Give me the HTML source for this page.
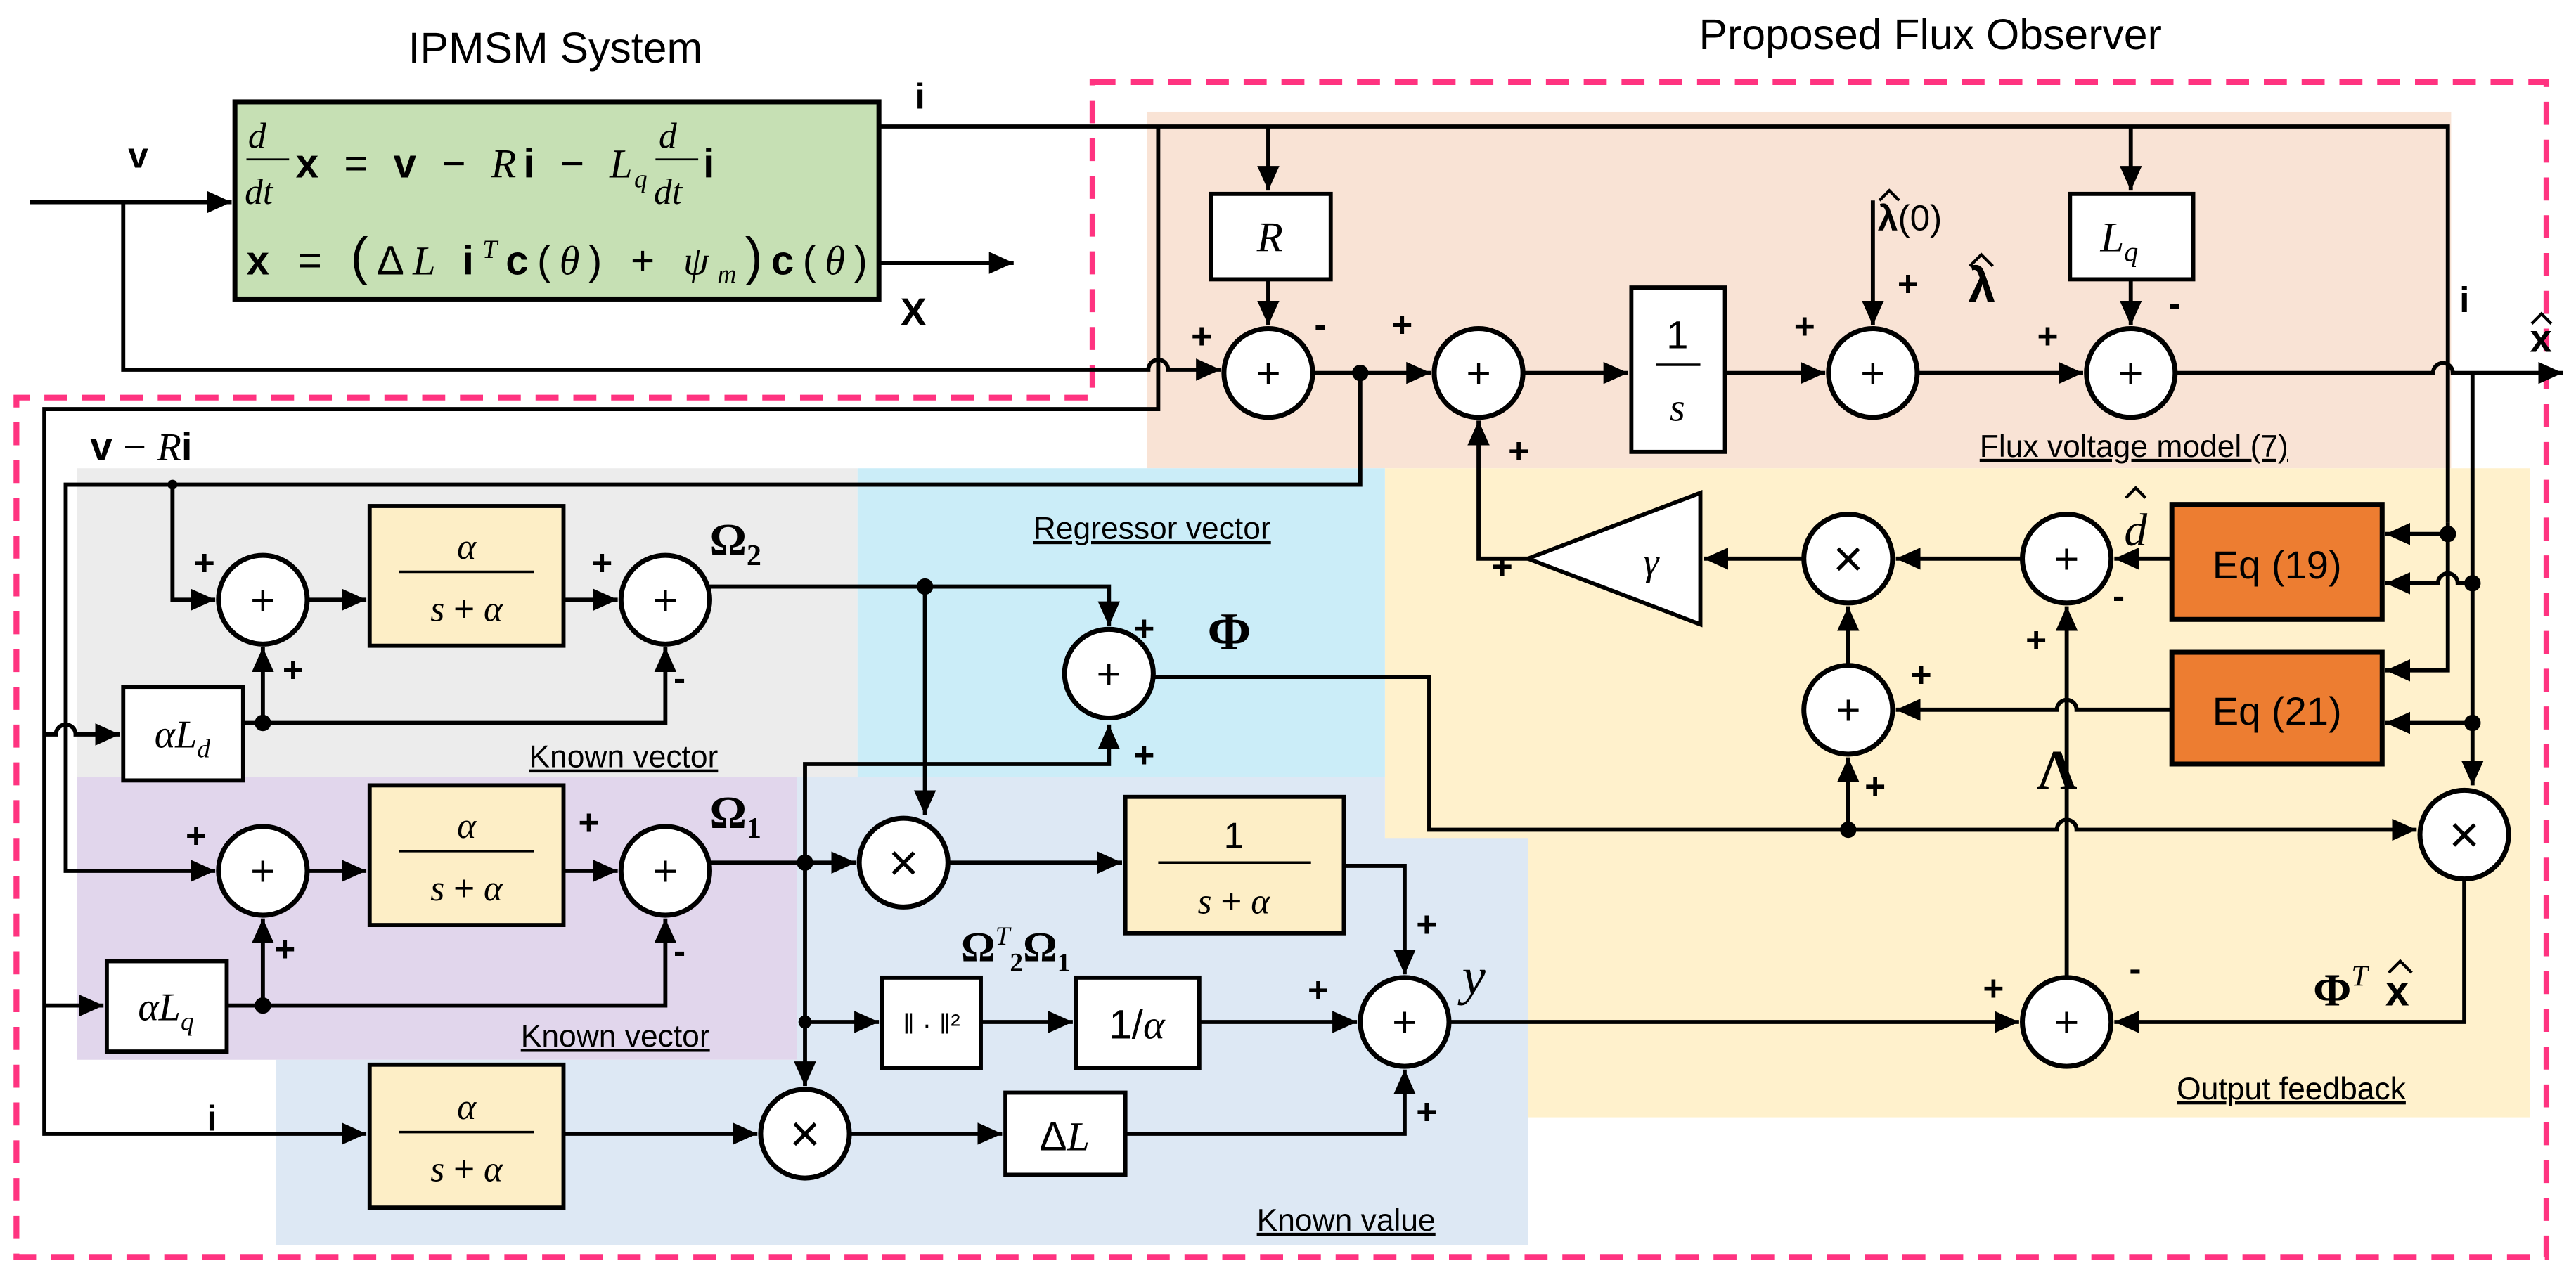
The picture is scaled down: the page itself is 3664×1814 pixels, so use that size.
<!DOCTYPE html>
<html><head><meta charset="utf-8"><style>
html,body{margin:0;padding:0;background:#fff;}
svg{display:block;}
.t{font-family:"Liberation Sans",sans-serif;}
.m{font-family:"Liberation Serif",serif;font-style:italic;}
.b{font-family:"Liberation Sans",sans-serif;font-weight:bold;}
</style></head><body>
<svg width="3664" height="1814" viewBox="0 0 1568 776" preserveAspectRatio="none" xmlns="http://www.w3.org/2000/svg">
<defs>
<marker id="A" viewBox="0 0 10 10" refX="10" refY="5" markerWidth="15" markerHeight="15" markerUnits="userSpaceOnUse" orient="auto"><path d="M0,0.5L10,5L0,9.5z" fill="#000"/></marker>
</defs>
<!-- regions -->
<rect x="698" y="68" width="794" height="217" fill="#f9e3d5"/>
<rect x="843" y="285" width="697" height="395" fill="#fff1cc"/>
<rect x="47" y="285" width="475" height="188" fill="#ececec"/>
<rect x="522" y="285" width="321" height="188" fill="#cbedf8"/>
<rect x="47" y="473" width="438" height="172" fill="#e1d6ec"/>
<path d="M485,473H843V510H930V758H168V645H485Z" fill="#dde8f4"/>
<!-- dashed outline -->
<path d="M665,50H1550V765H10V242H665Z" fill="none" stroke="#ff3380" stroke-width="3.5" stroke-dasharray="14,9"/>
<!-- titles -->
<text x="338" y="38" class="t" font-size="26" text-anchor="middle">IPMSM System</text>
<text x="1175" y="30" class="t" font-size="26" text-anchor="middle">Proposed Flux Observer</text>
<!-- green box -->
<rect x="143" y="62" width="392" height="120" fill="#c6e0b4" stroke="#000" stroke-width="3"/>
<g font-size="25">
<text x="151" y="90" class="m" font-size="22">d</text><line x1="150" y1="97" x2="176" y2="97" stroke="#000" stroke-width="1.2"/><text x="149" y="124" class="m" font-size="22">dt</text>
<text x="180" y="108" textLength="205" lengthAdjust="spacing"><tspan class="b">x</tspan><tspan class="t"> = </tspan><tspan class="b">v</tspan><tspan class="t"> − </tspan><tspan class="m">R</tspan><tspan class="b">i</tspan><tspan class="t"> − </tspan><tspan class="m">L</tspan></text>
<text x="386" y="114" class="m" font-size="16">q</text>
<text x="401" y="90" class="m" font-size="22">d</text><line x1="399" y1="97" x2="425" y2="97" stroke="#000" stroke-width="1.2"/><text x="398" y="124" class="m" font-size="22">dt</text>
<text x="428" y="108" class="b">i</text>
<text x="150" y="167" textLength="378" lengthAdjust="spacing"><tspan class="b">x</tspan><tspan class="t"> = </tspan><tspan class="t" font-size="32">(</tspan><tspan class="t">Δ</tspan><tspan class="m">L </tspan><tspan class="b">i</tspan><tspan class="m" font-size="16" dy="-10">T</tspan><tspan class="b" dy="10">c</tspan><tspan class="t">(</tspan><tspan class="m">θ</tspan><tspan class="t">) + </tspan><tspan class="m">ψ</tspan><tspan class="m" font-size="16" dy="5">m</tspan><tspan class="t" font-size="32" dy="-5">)</tspan><tspan class="b">c</tspan><tspan class="t">(</tspan><tspan class="m">θ</tspan><tspan class="t">)</tspan></text>
</g>
<g stroke="#000" stroke-width="2.5" fill="none">
<line x1="18" y1="123" x2="141" y2="123" marker-end="url(#A)"/>
<path d="M75,123V225H699A6,6 0 0 1 711,225H743" marker-end="url(#A)"/>
<line x1="535" y1="160" x2="617" y2="160" marker-end="url(#A)"/>
<path d="M535,77H1490V318"/>
<path d="M705,77V249H27V690H223" marker-end="url(#A)"/>
<line x1="772" y1="77" x2="772" y2="116" marker-end="url(#A)"/>
<line x1="1297" y1="77" x2="1297" y2="116" marker-end="url(#A)"/>
<line x1="772" y1="170" x2="772" y2="198" marker-end="url(#A)"/>
<line x1="1297" y1="170" x2="1297" y2="198" marker-end="url(#A)"/>
<line x1="800" y1="227" x2="871" y2="227" marker-end="url(#A)"/>
<line x1="927" y1="227" x2="991" y2="227" marker-end="url(#A)"/>
<line x1="1050" y1="227" x2="1111" y2="227" marker-end="url(#A)"/>
<line x1="1140" y1="122" x2="1140" y2="198" marker-end="url(#A)"/>
<line x1="1168" y1="227" x2="1268" y2="227" marker-end="url(#A)"/>
<path d="M1325,227H1481A6,6 0 0 1 1493,227H1560" marker-end="url(#A)"/>
<path d="M1490,318V325H1452" marker-end="url(#A)"/>
<path d="M1490,325V408H1452" marker-end="url(#A)"/>
<path d="M1505,227V478" marker-end="url(#A)"/>
<path d="M1505,355H1496A6,6 0 0 0 1484,355H1452" marker-end="url(#A)"/>
<line x1="1505" y1="440" x2="1452" y2="440" marker-end="url(#A)"/>
<line x1="1322" y1="340" x2="1287" y2="340" marker-end="url(#A)"/>
<line x1="1231" y1="340" x2="1154" y2="340" marker-end="url(#A)"/>
<line x1="1098" y1="340" x2="1037" y2="340" marker-end="url(#A)"/>
<path d="M930,340H900V256" marker-end="url(#A)"/>
<path d="M1322,432H1264A6,6 0 0 0 1252,432H1154" marker-end="url(#A)"/>
<line x1="1125" y1="405" x2="1125" y2="369" marker-end="url(#A)"/>
<path d="M702,412H870V505H1252A6,6 0 0 1 1264,505H1471" marker-end="url(#A)"/>
<line x1="1125" y1="505" x2="1125" y2="461" marker-end="url(#A)"/>
<path d="M1500,536V622H1287" marker-end="url(#A)"/>
<line x1="882" y1="622" x2="1229" y2="622" marker-end="url(#A)"/>
<line x1="1258" y1="595" x2="1258" y2="369" marker-end="url(#A)"/>
<path d="M828,227V295H40V530H131" marker-end="url(#A)"/>
<path d="M105,295V365H131" marker-end="url(#A)"/>
<path d="M27,447H34A6,6 0 0 1 46,447H73" marker-end="url(#A)"/>
<line x1="27" y1="612" x2="63" y2="612" marker-end="url(#A)"/>
<line x1="187" y1="365" x2="223" y2="365" marker-end="url(#A)"/>
<line x1="343" y1="365" x2="376" y2="365" marker-end="url(#A)"/>
<path d="M148,440H405V394" marker-end="url(#A)"/>
<line x1="160" y1="440" x2="160" y2="394" marker-end="url(#A)"/>
<path d="M432,357H675V381" marker-end="url(#A)"/>
<line x1="563" y1="357" x2="563" y2="496" marker-end="url(#A)"/>
<line x1="187" y1="530" x2="223" y2="530" marker-end="url(#A)"/>
<line x1="343" y1="530" x2="376" y2="530" marker-end="url(#A)"/>
<path d="M138,612H405V559" marker-end="url(#A)"/>
<line x1="160" y1="612" x2="160" y2="559" marker-end="url(#A)"/>
<line x1="432" y1="525" x2="521" y2="525" marker-end="url(#A)"/>
<path d="M490,525V465H675V441" marker-end="url(#A)"/>
<path d="M490,525V622H535" marker-end="url(#A)"/>
<line x1="490" y1="622" x2="490" y2="661" marker-end="url(#A)"/>
<line x1="577" y1="525" x2="683" y2="525" marker-end="url(#A)"/>
<path d="M818,527H855V593" marker-end="url(#A)"/>
<line x1="597" y1="622" x2="653" y2="622" marker-end="url(#A)"/>
<line x1="730" y1="622" x2="826" y2="622" marker-end="url(#A)"/>
<line x1="343" y1="690" x2="461" y2="690" marker-end="url(#A)"/>
<line x1="517" y1="690" x2="610" y2="690" marker-end="url(#A)"/>
<path d="M685,690H855V651" marker-end="url(#A)"/>
</g>
<g fill="#000">
<circle cx="828" cy="227" r="5"/><circle cx="160" cy="440" r="5"/><circle cx="160" cy="612" r="5"/>
<circle cx="563" cy="357" r="5"/><circle cx="490" cy="525" r="5"/><circle cx="490" cy="622" r="4"/>
<circle cx="1125" cy="505" r="5"/><circle cx="1490" cy="325" r="5"/><circle cx="1505" cy="355" r="5"/><circle cx="1505" cy="440" r="5"/>
<circle cx="105" cy="295" r="3"/>
</g>
<g stroke="#000" stroke-width="3" fill="#fff">
<circle cx="772" cy="227" r="27"/><circle cx="900" cy="227" r="27"/><circle cx="1140" cy="227" r="27"/><circle cx="1297" cy="227" r="27"/>
<circle cx="160" cy="365" r="27"/><circle cx="405" cy="365" r="27"/><circle cx="160" cy="530" r="27"/><circle cx="405" cy="530" r="27"/>
<circle cx="675" cy="410" r="27"/><circle cx="855" cy="622" r="27"/><circle cx="1258" cy="340" r="27"/><circle cx="1125" cy="432" r="27"/><circle cx="1258" cy="622" r="27"/>
<circle cx="550" cy="525" r="27"/><circle cx="490" cy="690" r="27"/><circle cx="1125" cy="340" r="27"/><circle cx="1500" cy="508" r="27"/>
</g>
<g class="t" font-size="26" text-anchor="middle">
<text x="772" y="236">+</text><text x="900" y="236">+</text><text x="1140" y="236">+</text><text x="1297" y="236">+</text>
<text x="160" y="374">+</text><text x="405" y="374">+</text><text x="160" y="539">+</text><text x="405" y="539">+</text>
<text x="675" y="419">+</text><text x="855" y="631">+</text><text x="1258" y="349">+</text><text x="1125" y="441">+</text><text x="1258" y="631">+</text>
</g>
<g class="t" font-size="32" text-anchor="middle">
<text x="550" y="536">×</text><text x="490" y="701">×</text><text x="1125" y="351">×</text><text x="1500" y="519">×</text>
</g>
<g stroke="#000" stroke-width="2.5" fill="#fff">
<rect x="737" y="118" width="73" height="52"/><rect x="1260" y="118" width="75" height="52"/>
<rect x="993" y="175" width="57" height="100"/>
<rect x="75" y="418" width="73" height="57"/><rect x="65" y="585" width="73" height="55"/>
<rect x="537" y="595" width="60" height="55"/><rect x="655" y="595" width="75" height="55"/><rect x="612" y="665" width="73" height="50"/>
</g>
<g stroke="#000" stroke-width="2.5" fill="#fdeec6">
<rect x="225" y="308" width="118" height="85"/><rect x="225" y="478" width="118" height="85"/><rect x="225" y="648" width="118" height="87"/>
<rect x="685" y="485" width="133" height="83"/>
</g>
<g stroke="#000" stroke-width="3" fill="#ed7d31">
<rect x="1322" y="307" width="128" height="70"/><rect x="1322" y="397" width="128" height="68"/>
</g>
<polygon points="930,340 1035,300 1035,380" fill="#fff" stroke="#000" stroke-width="2.5"/>
<text x="1005" y="350" class="m" font-size="24" text-anchor="middle">γ</text>
<text x="1386" y="352" class="t" font-size="24" text-anchor="middle">Eq (19)</text>
<text x="1386" y="441" class="t" font-size="24" text-anchor="middle">Eq (21)</text>
<text x="773" y="153" class="m" font-size="26" text-anchor="middle">R</text>
<text x="1290" y="153" class="m" font-size="26" text-anchor="middle">L<tspan font-size="17" dy="6">q</tspan></text>
<text x="1021" y="212" class="t" font-size="24" text-anchor="middle">1</text><line x1="1008" y1="222" x2="1035" y2="222" stroke="#000" stroke-width="1.5"/><text x="1021" y="256" class="m" font-size="24" text-anchor="middle">s</text>
<g font-size="22" text-anchor="middle">
<text x="284" y="340" class="m">α</text><line x1="243" y1="348" x2="325" y2="348" stroke="#000" stroke-width="1.5"/><text x="284" y="378" class="m">s <tspan class="t" font-style="normal">+</tspan> α</text>
<text x="284" y="510" class="m">α</text><line x1="243" y1="518" x2="325" y2="518" stroke="#000" stroke-width="1.5"/><text x="284" y="548" class="m">s <tspan class="t" font-style="normal">+</tspan> α</text>
<text x="284" y="681" class="m">α</text><line x1="243" y1="689" x2="325" y2="689" stroke="#000" stroke-width="1.5"/><text x="284" y="719" class="m">s <tspan class="t" font-style="normal">+</tspan> α</text>
<text x="751" y="516" class="t">1</text><line x1="705" y1="525" x2="798" y2="525" stroke="#000" stroke-width="1.5"/><text x="751" y="556" class="m">s <tspan class="t" font-style="normal">+</tspan> α</text>
</g>
<text x="111" y="455" class="m" font-size="24" text-anchor="middle">αL<tspan font-size="16" dy="6">d</tspan></text>
<text x="101" y="621" class="m" font-size="24" text-anchor="middle">αL<tspan font-size="16" dy="6">q</tspan></text>
<text x="567" y="629" class="t" font-size="17" text-anchor="middle">‖ · ‖²</text>
<text x="692" y="632" class="t" font-size="25" text-anchor="middle">1/<tspan class="m">α</tspan></text>
<text x="648" y="700" class="t" font-size="25" text-anchor="middle">Δ<tspan class="m">L</tspan></text>
<!-- signal labels -->
<text x="557" y="66" class="b" font-size="22">i</text>
<text x="78" y="102" class="b" font-size="22">v</text>
<text x="548" y="198" class="b" font-size="24">X</text>
<text x="55" y="280" font-size="24"><tspan class="b">v</tspan><tspan class="t"> − </tspan><tspan class="m">R</tspan><tspan class="b">i</tspan></text>
<text x="126" y="688" class="b" font-size="22">i</text>
<text x="1497" y="190" class="b" font-size="22">i</text>
<text x="1540" y="214" class="b" font-size="24">x</text>
<text x="1198" y="184" class="b" font-size="30" font-family="Liberation Serif">λ</text>
<text x="1143" y="140" font-size="22"><tspan class="b" font-family="Liberation Serif">λ</tspan><tspan class="t">(0)</tspan></text>
<text x="1293" y="332" class="m" font-size="28">d</text>
<text x="1452" y="612" class="b" font-size="26">x</text>
<g fill="none" stroke="#000" stroke-width="1.8">
<polyline points="1541,197 1547,191 1553,197"/>
<polyline points="1199,162 1206,155 1213,162"/>
<polyline points="1144,122 1150,116 1156,122"/>
<polyline points="1294,303 1300,297 1306,303"/>
<polyline points="1454,592 1461,585 1468,592"/>
</g>
<text x="432" y="338" font-family="Liberation Serif" font-weight="bold" font-size="28">Ω<tspan font-size="18" dy="6">2</tspan></text>
<text x="432" y="504" font-family="Liberation Serif" font-weight="bold" font-size="28">Ω<tspan font-size="18" dy="6">1</tspan></text>
<text x="735" y="395" font-family="Liberation Serif" font-weight="bold" font-size="32">Φ</text>
<text x="1240" y="480" font-family="Liberation Serif" font-weight="bold" font-size="34">Λ</text>
<text x="585" y="585" font-family="Liberation Serif" font-weight="bold" font-size="26">Ω<tspan font-size="16" dy="-10" font-style="italic" font-weight="normal">T</tspan><tspan font-size="16" dy="16">2</tspan><tspan dy="-6">Ω</tspan><tspan font-size="16" dy="6">1</tspan></text>
<text x="890" y="605" class="m" font-size="32">y</text>
<text x="1408" y="612" font-family="Liberation Serif" font-weight="bold" font-size="28">Φ<tspan font-size="18" dy="-12" font-style="italic" font-weight="normal">T</tspan></text>
<g class="t" font-size="22" font-weight="bold">
<text x="725" y="212">+</text><text x="800" y="205">-</text><text x="847" y="205">+</text><text x="918" y="282">+</text>
<text x="1092" y="206">+</text><text x="1155" y="180">+</text><text x="1240" y="212">+</text><text x="1320" y="192">-</text>
<text x="118" y="350">+</text><text x="172" y="415">+</text><text x="360" y="350">+</text><text x="410" y="420">-</text>
<text x="113" y="516">+</text><text x="167" y="585">+</text><text x="352" y="508">+</text><text x="410" y="586">-</text>
<text x="690" y="390">+</text><text x="690" y="467">+</text>
<text x="862" y="570">+</text><text x="796" y="610">+</text><text x="862" y="684">+</text>
<text x="1286" y="370">-</text><text x="1233" y="397">+</text><text x="1163" y="418">+</text><text x="1135" y="486">+</text>
<text x="908" y="352">+</text>
<text x="1207" y="609">+</text><text x="1296" y="597">-</text>
</g>
<g class="t" font-size="19" text-decoration="underline">
<text x="1205" y="278">Flux voltage model (7)</text>
<text x="629" y="328">Regressor vector</text>
<text x="322" y="467">Known vector</text>
<text x="317" y="637">Known vector</text>
<text x="765" y="749">Known value</text>
<text x="1325" y="669">Output feedback</text>
</g>
</svg>
</body></html>
